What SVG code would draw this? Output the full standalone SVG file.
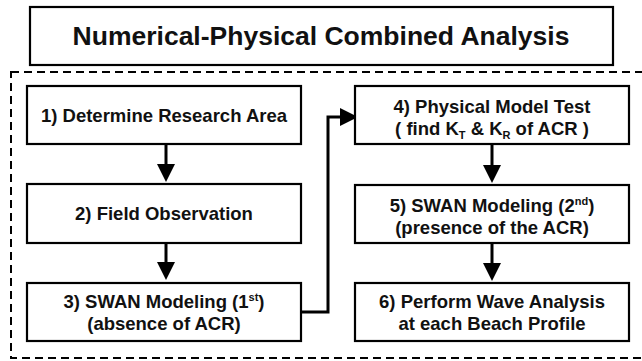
<svg xmlns="http://www.w3.org/2000/svg" width="642" height="361" viewBox="0 0 642 361">
<style>
.box{fill:#fff;stroke:#000;stroke-width:2.2}
.t{font-family:"Liberation Sans",Arial,sans-serif;font-weight:bold;font-size:18.5px;fill:#111;text-anchor:middle}
.title{font-size:26.5px}
.sup{font-size:11px}
.line{fill:none;stroke:#000;stroke-width:3}
.dash{fill:none;stroke:#000;stroke-width:2;stroke-dasharray:8 5}
</style>
<defs>
<marker id="ah" markerWidth="6" markerHeight="6" refX="0" refY="3" orient="auto" markerUnits="strokeWidth" viewBox="0 0 6 6">
<path d="M0,0 L6,3 L0,6 Z" fill="#000"/>
</marker>
</defs>
<rect width="642" height="361" fill="#fff"/>
<g id="title">
<rect class="box" x="30" y="7" width="583" height="58"/>
<text class="t title" x="321" y="45">Numerical-Physical Combined Analysis</text>
</g>
<rect class="dash" x="11" y="72" width="640" height="286"/>
<g id="connectors">
<line class="line" x1="166" y1="145" x2="166" y2="164" marker-end="url(#ah)"/>
<line class="line" x1="166" y1="244" x2="166" y2="262" marker-end="url(#ah)"/>
<line class="line" x1="492" y1="145" x2="492" y2="165" marker-end="url(#ah)"/>
<line class="line" x1="492" y1="244" x2="492" y2="263" marker-end="url(#ah)"/>
<polyline class="line" points="301,312 328,312 328,117 340,117" marker-end="url(#ah)"/>
</g>
<g id="n1">
<rect class="box" x="27" y="86" width="274" height="58"/>
<text class="t" x="164" y="122">1) Determine Research Area</text>
</g>
<g id="n2">
<rect class="box" x="27" y="184" width="274" height="59"/>
<text class="t" x="164" y="220">2) Field Observation</text>
</g>
<g id="n3">
<rect class="box" x="27" y="283" width="274" height="58"/>
<text class="t" x="164" y="308">3) SWAN Modeling (1<tspan class="sup" dy="-7">st</tspan><tspan dy="7">)</tspan></text>
<text class="t" x="164" y="330">(absence of ACR)</text>
</g>
<g id="n4">
<rect class="box" x="355" y="86" width="274" height="58"/>
<text class="t" x="492" y="113">4) Physical Model Test</text>
<text class="t" x="492" y="135">( find K<tspan class="sup" dy="4">T</tspan><tspan dy="-4"> &amp; K</tspan><tspan class="sup" dy="4">R</tspan><tspan dy="-4"> of ACR )</tspan></text>
</g>
<g id="n5">
<rect class="box" x="355" y="185" width="274" height="58"/>
<text class="t" x="492" y="212">5) SWAN Modeling (2<tspan class="sup" dy="-7">nd</tspan><tspan dy="7">)</tspan></text>
<text class="t" x="492" y="234">(presence of the ACR)</text>
</g>
<g id="n6">
<rect class="box" x="355" y="283" width="274" height="58"/>
<text class="t" x="492" y="308">6) Perform Wave Analysis</text>
<text class="t" x="492" y="330">at each Beach Profile</text>
</g>
</svg>
